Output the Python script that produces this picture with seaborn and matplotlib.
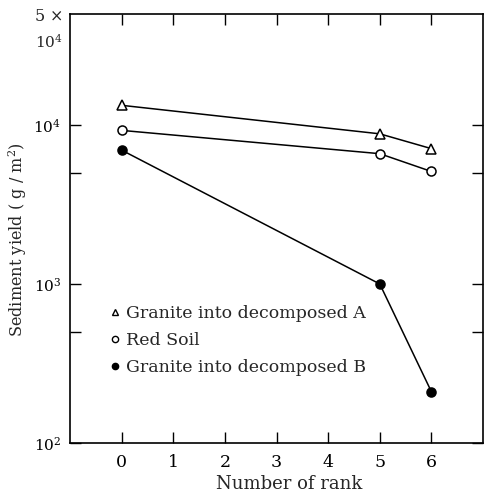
import numpy as np
import pandas as pd
import matplotlib
matplotlib.use("Agg")
import matplotlib.pyplot as plt
import seaborn as sns
from matplotlib.lines import Line2D

# Data
rank = [0, 5, 6]
granite_a = [13300, 8800, 7100]
red_soil = [9250, 6600, 5100]
granite_b = [6950, 1000, 210]
series_names = ["Granite into decomposed A", "Red Soil", "Granite into decomposed B"]
x_ticks = [0, 1, 2, 3, 4, 5, 6]

sns.set_theme(style="ticks")
plt.rcParams["font.family"] = ["DejaVu Serif"]
plt.rcParams["mathtext.fontset"] = "dejavuserif"

fig = plt.figure(figsize=(4.84, 4.96), dpi=100)
ax = fig.add_axes([0.1446, 0.107, 0.8534, 0.865])

styles = [("^", "white"), ("o", "white"), ("o", "black")]
for name, vals, (mk, fc) in zip(series_names, [granite_a, red_soil, granite_b], styles):
    df = pd.DataFrame({"rank": rank, "yield": vals})
    sns.lineplot(data=df, x="rank", y="yield", ax=ax, color="black", lw=1.1,
                 marker=mk, markersize=6.5, markerfacecolor=fc,
                 markeredgecolor="black", markeredgewidth=1.1, label=None)

ax.set_yscale("log")
ax.set_ylim(100, 50000)
ax.set_xlim(-1, 7)
ax.set_xticks(x_ticks)
ax.set_xticklabels([str(t) for t in x_ticks], fontsize=12.5)
ax.set_yticks([100, 500, 1000, 5000, 10000])
ax.set_yticklabels([r"$10^2$", "", r"$10^3$", "", r"$10^4$"], fontsize=11)
ax.yaxis.set_minor_locator(matplotlib.ticker.NullLocator())
ax.tick_params(axis="both", which="major", direction="in", length=8, width=1,
               top=True, right=True, pad=8, colors="black")
ax.tick_params(axis="y", pad=6.5)
for s in ax.spines.values():
    s.set_linewidth(1.2)
    s.set_color("black")

ax.text(-0.017, 0.993, "5 $\\times$", transform=ax.transAxes, ha="right", va="center", fontsize=11.5)
ax.text(-0.017, 0.935, r"$10^4$", transform=ax.transAxes, ha="right", va="center", fontsize=11)

ax.set_xlabel("Number of rank", fontsize=13)
ax.xaxis.set_label_coords(0.53, -0.075)
ax.set_ylabel("Sediment yield ( g / m$^{\\mathrm{2}}$)", fontsize=11.6)
ax.yaxis.set_label_coords(-0.1, 0.473)

handles = [Line2D([], [], ls="none", marker=mk, markersize=4.5, markerfacecolor=fc,
                  markeredgecolor="black", markeredgewidth=1) for mk, fc in styles]
leg = ax.legend(handles, series_names, loc="upper left", bbox_to_anchor=(0.08, 0.338),
                frameon=False, fontsize=12.5, handlelength=0.6, handletextpad=0.3,
                labelspacing=0.58, borderaxespad=0)

fig.savefig("out.png", dpi=100)
